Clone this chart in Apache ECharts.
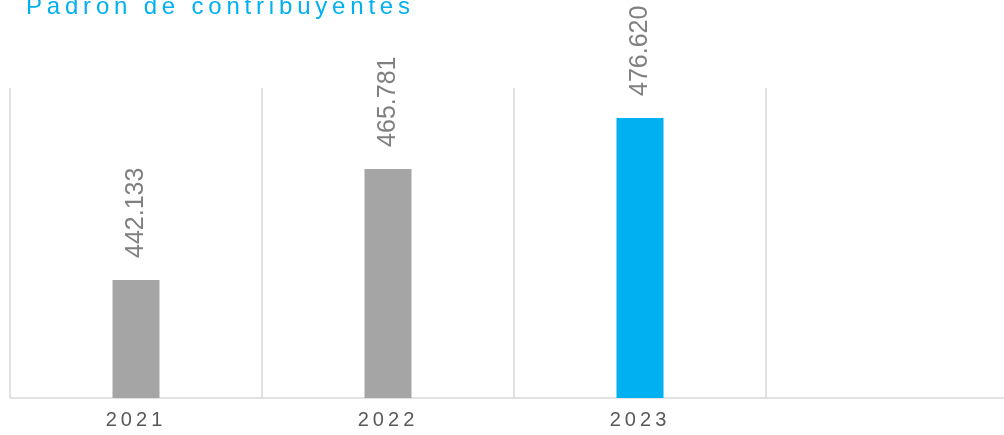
<!DOCTYPE html>
<html>
<head>
<meta charset="utf-8">
<script src="https://cdn.jsdelivr.net/npm/echarts@6/dist/echarts.min.js"></script>
<style>html,body{margin:0;padding:0;background:#fff}#c{width:1004px;height:435px}</style>
</head>
<body>
<div id="c"></div>
<script>
const titleText = 'Padrón de contribuyentes';
const categories = ['2021', '2022', '2023', ''];
const values = [442133, 465781, 476620, null];
const labels = ['442.133', '465.781', '476.620', ''];
const highlightIndex = 2;

const spaced = s => s.split('').join('\u2009');
const chart = echarts.init(document.getElementById('c'));
chart.setOption({
  animation: false,
  title: {
    text: spaced(titleText),
    left: 21, top: -10,
    textStyle: { color: '#00B0F0', fontSize: 24, fontWeight: 'normal', fontFamily: 'Liberation Sans, Arial, sans-serif' }
  },
  grid: { left: 10, right: -14, top: 88, bottom: 37, containLabel: false, outerBoundsMode: 'none' },
  xAxis: {
    type: 'category',
    data: categories,
    axisLine: { lineStyle: { color: '#d9d9d9', width: 1.5 } },
    axisTick: { show: false },
    splitLine: { show: true, lineStyle: { color: '#d9d9d9', width: 1.5 } },
    axisLabel: {
      color: '#595959', fontSize: 20, margin: 12,
      fontFamily: 'Liberation Sans, Arial, sans-serif',
      formatter: v => v ? spaced(v) + '\u2009' : ''
    }
  },
  yAxis: {
    type: 'value', min: 417000, max: 483000,
    show: false, splitLine: { show: false }
  },
  series: [{
    type: 'bar',
    barWidth: 47,
    data: values.map((v, i) => ({
      value: v,
      itemStyle: { color: i === highlightIndex ? '#00B0F0' : '#A5A5A5' }
    })),
    label: {
      show: true, position: 'top', rotate: 90, distance: 22,
      align: 'left', verticalAlign: 'middle',
      color: '#808080', fontSize: 25,
      fontFamily: 'Liberation Sans, Arial, sans-serif',
      formatter: p => labels[p.dataIndex]
    }
  }]
});
</script>
</body>
</html>
